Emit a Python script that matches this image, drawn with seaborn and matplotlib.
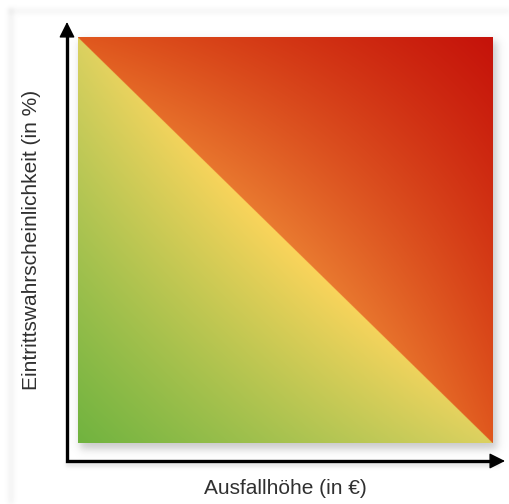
import numpy as np
import matplotlib
matplotlib.use("Agg")
import matplotlib.pyplot as plt
from matplotlib.colors import to_rgb
import seaborn as sns

# Axis titles
x_label = "Ausfallhöhe (in €)"
y_label = "Eintrittswahrscheinlichkeit (in %)"

# Colour stops of the risk field
# lower triangle (low risk): origin corner, ends of the diagonal, middle of the diagonal
low_corner = "#70b33f"
low_diag_end = "#dcd160"
low_diag_mid = "#fbd45b"
# upper triangle (high risk): far corner, ends of the diagonal, middle of the diagonal
high_corner = "#c5120a"
high_diag_end = "#e0581e"
high_diag_mid = "#e97a30"

sns.set_theme(style="white")
plt.rcParams["font.family"] = ["Liberation Sans", "DejaVu Sans"]

W, H = 510, 504
fig = plt.figure(figsize=(W / 100, H / 100), dpi=100)
fig.patch.set_facecolor("white")

# Background layer in pixel coordinates
bg = fig.add_axes([0, 0, 1, 1])
bg.set_xlim(0, W)
bg.set_ylim(H, 0)
bg.axis("off")

# soft drop shadow behind the field
X, Y = np.meshgrid(np.arange(W) + 0.5, np.arange(H) + 0.5)
def soft_box(x0, x1, y0, y1, s):
    sx = 0.5 * (np.tanh((X - x0) / s) - np.tanh((X - x1) / s))
    sy = 0.5 * (np.tanh((Y - y0) / s) - np.tanh((Y - y1) / s))
    return sx * sy

shadow = 0.38 * soft_box(80, 497, 41, 449, 5.0)
shadow += 0.18 * soft_box(66, 500, 462, 467, 2.0)
shadow += 0.08 * soft_box(8, 14, 8, H, 2.5)
shadow += 0.06 * soft_box(8, W, 8, 14, 2.5)
shadow = np.clip(shadow, 0, 1)
rgba = np.zeros((H, W, 4))
rgba[..., :3] = 0.45
rgba[..., 3] = shadow
bg.imshow(rgba, extent=[0, W, H, 0], interpolation="bilinear", zorder=0)

# Risk field: blend of corner colours inside each triangle
ax = fig.add_axes([78 / W, 1 - 443 / H, 415 / W, 406 / H])
N = 600
u, v = np.meshgrid((np.arange(N) + 0.5) / N, (np.arange(N) + 0.5) / N)

def c(h):
    return np.array(to_rgb(h))

# lower triangle (u + v < 1)
wa = np.clip(1 - u - v, 0, 1)[..., None]
wb = u[..., None]
wc = v[..., None]
low = wa * c(low_corner) + (wb + wc) * c(low_diag_end) + 4 * wb * wc * (c(low_diag_mid) - c(low_diag_end))
# upper triangle (u + v > 1)
wd = np.clip(u + v - 1, 0, 1)[..., None]
wb2 = (1 - v)[..., None]
wc2 = (1 - u)[..., None]
high = wd * c(high_corner) + (wb2 + wc2) * c(high_diag_end) + 4 * wb2 * wc2 * (c(high_diag_mid) - c(high_diag_end))

field = np.where((u + v < 1)[..., None], low, high)
field = np.clip(field, 0, 1)
ax.imshow(field, origin="lower", extent=[0, 1, 0, 1], aspect="auto", interpolation="bilinear")
ax.set_xlim(0, 1)
ax.set_ylim(0, 1)
ax.axis("off")

# Axis lines joined at the origin corner
bg.plot([67, 67, 498], [30, 461, 461], color="black", lw=2.4,
        solid_joinstyle="miter", solid_capstyle="butt", zorder=5)
# Arrow heads
head = dict(arrowstyle="-|>,head_length=0.6,head_width=0.3", lw=1.0, color="black",
            mutation_scale=16, shrinkA=0, shrinkB=0)
bg.annotate("", xy=(67, 22), xytext=(67, 40), arrowprops=head, zorder=6)
bg.annotate("", xy=(505, 461), xytext=(487, 461), arrowprops=head, zorder=6)

# Axis titles
bg.text(32, 240, y_label, rotation=90, ha="center", va="center",
        fontsize=15, color="#303030", zorder=6)
bg.text(285, 488, x_label, ha="center", va="center",
        fontsize=15, color="#303030", zorder=6)

fig.savefig("out.png", dpi=100)
